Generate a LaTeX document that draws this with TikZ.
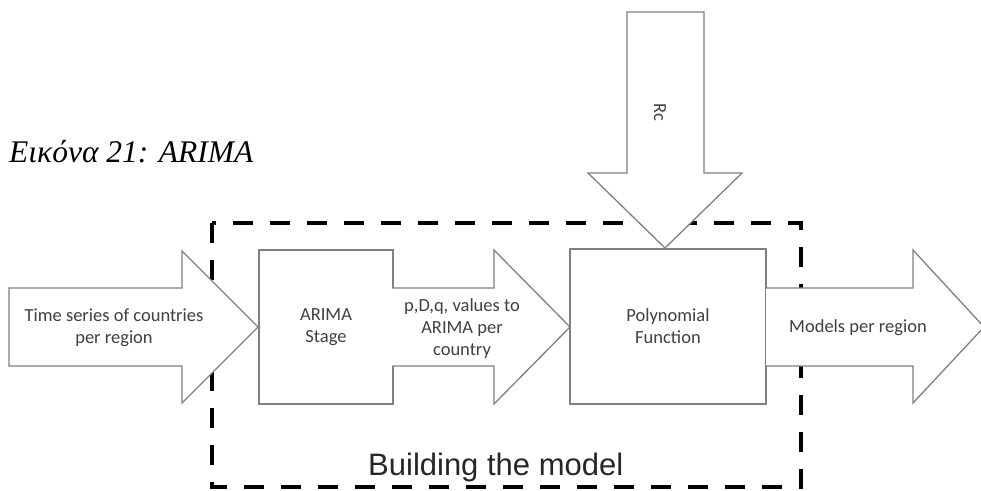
\documentclass[tikz,border=0pt]{standalone}
\usepackage{fontspec}
\setmainfont{Liberation Serif}
\newfontfamily\calfont{Carlito}
\newfontfamily\arialfont{Liberation Sans}
\begin{document}
\begin{tikzpicture}[x=1pt,y=-1pt,
  outl/.style={draw=black!50,line width=1.3pt,fill=white,line join=miter},
  boxnode/.style={outl,rectangle,inner sep=0pt},
  lbl/.style={font=\calfont\fontsize{18.5}{22}\selectfont,text=black!75,align=center,inner sep=0pt},
  dashframe/.style={draw=black,line width=4pt,dash pattern=on 20pt off 17pt}]
\useasboundingbox (0,0) rectangle (981,490);
% dashed frame
\draw[dashframe] (212,223) rectangle (801,487);
% boxes
\node[boxnode,minimum width=134pt,minimum height=154pt] (arima) at (326,327) {};
\node[boxnode,minimum width=196pt,minimum height=155pt] (poly) at (668,326.5) {};
% block arrows
\draw[outl] (9,288) -- (182,288) -- (182,251) -- (258,327) -- (182,403) -- (182,366) -- (9,366) -- cycle;
\draw[outl] (392,288) -- (494,288) -- (494,250) -- (570,327) -- (494,404) -- (494,366) -- (392,366);
\draw[outl] (766,288) -- (913,288) -- (913,250) -- (984,327) -- (913,403) -- (913,366) -- (766,366);
\draw[outl] (627,12) -- (704,12) -- (704,173) -- (742,173) -- (665,248) -- (588,173) -- (627,173) -- cycle;
% labels
\node[lbl] (ts) at (114,328) {Time series of countries\\per region};
\node[lbl] (arimatxt) at (arima) {ARIMA\\Stage};
\node[lbl] (pdq) at (462,329) {p,D,q, values to\\ARIMA per\\country};
\node[lbl] (polytxt) at (poly) {Polynomial\\Function};
\node[lbl] (models) at (858,328) {Models per region};
\node[lbl,rotate=-90] (rc) at (660,112) {Rc};
\node[font=\arialfont\fontsize{31}{36}\selectfont,text=black!85,anchor=base west,inner sep=0pt] (build) at (368,475) {Building the model};
\node[font=\itshape\fontsize{31.5}{38}\selectfont,anchor=base west,inner sep=0pt] (cap) at (9,162) {Εικόνα 21: ARIMA};
\end{tikzpicture}
\end{document}
